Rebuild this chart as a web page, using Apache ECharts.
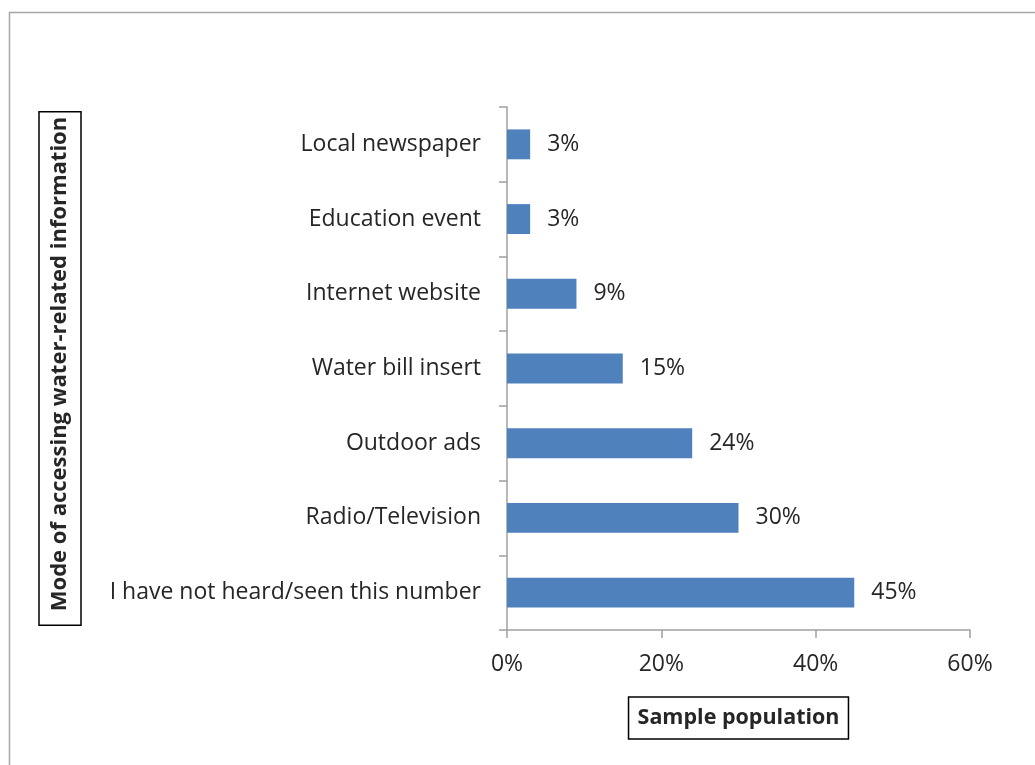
<!DOCTYPE html>
<html>
<head>
<meta charset="utf-8">
<style>
  html, body { margin: 0; padding: 0; background: #fff; }
  #chart { width: 1035px; height: 765px; }
</style>
<script src="https://cdn.jsdelivr.net/npm/echarts@6/dist/echarts.min.js"></script>
</head>
<body>
<div id="chart"></div>
<script>
// Modes of accessing water-related information, top to bottom
const categories = [
  'Local newspaper',
  'Education event',
  'Internet website',
  'Water bill insert',
  'Outdoor ads',
  'Radio/Television',
  'I have not heard/seen this number'
];
// Share of the sample population (%)
const shares = [3, 3, 9, 15, 24, 30, 45];
const xTicks = [0, 20, 40, 60];

const FONT = '"Open Sans", "Noto Sans", sans-serif';
const TEXT = '#262626';
const AXIS = '#a0a0a0';

const chart = echarts.init(document.getElementById('chart'), null, { renderer: 'canvas' });

chart.setOption({
  backgroundColor: '#ffffff',
  animation: false,
  textStyle: { fontFamily: FONT },
  graphic: [{
    type: 'rect',
    shape: { x: 9.5, y: 12.5, width: 1100, height: 800 },
    style: { fill: 'none', stroke: '#a6a6a6', lineWidth: 1.5 },
    silent: true
  }],
  grid: { left: 507, right: 65, top: 107, bottom: 135, containLabel: false },
  xAxis: {
    type: 'value',
    min: xTicks[0],
    max: xTicks[xTicks.length - 1],
    interval: xTicks[1] - xTicks[0],
    axisLine: { show: true, lineStyle: { color: AXIS, width: 1.5 } },
    axisTick: { show: true, length: 8, lineStyle: { color: AXIS, width: 1.5 } },
    splitLine: { show: false },
    axisLabel: {
      formatter: v => v + '%',
      color: TEXT, fontSize: 23, fontFamily: FONT, margin: 23
    },
    name: 'Sample population',
    nameLocation: 'middle',
    nameGap: 67,
    nameTextStyle: {
      color: TEXT, fontSize: 21.5, fontWeight: 'bold', fontFamily: FONT,
      borderColor: '#000', borderWidth: 1.5, padding: [10, 9, 10, 9]
    }
  },
  yAxis: {
    type: 'category',
    data: categories,
    inverse: true,
    axisLine: { show: true, lineStyle: { color: AXIS, width: 1.5 } },
    axisTick: { show: true, length: 8, lineStyle: { color: AXIS, width: 1.5 } },
    axisLabel: { color: TEXT, fontSize: 23, fontFamily: FONT, margin: 26 },
    name: 'Mode of accessing water-related information',
    nameLocation: 'middle',
    nameRotate: 90,
    nameGap: 426,
    nameTextStyle: {
      color: TEXT, fontSize: 22, fontWeight: 'bold', fontFamily: FONT,
      borderColor: '#000', borderWidth: 1.5, padding: [10, 5, 10, 14]
    }
  },
  series: [{
    type: 'bar',
    data: shares,
    barWidth: '40%',
    itemStyle: { color: '#4f81bd' },
    label: {
      show: true,
      position: 'right',
      distance: 17,
      formatter: p => p.value + '%',
      color: TEXT, fontSize: 23, fontFamily: FONT
    }
  }]
});
</script>
</body>
</html>
